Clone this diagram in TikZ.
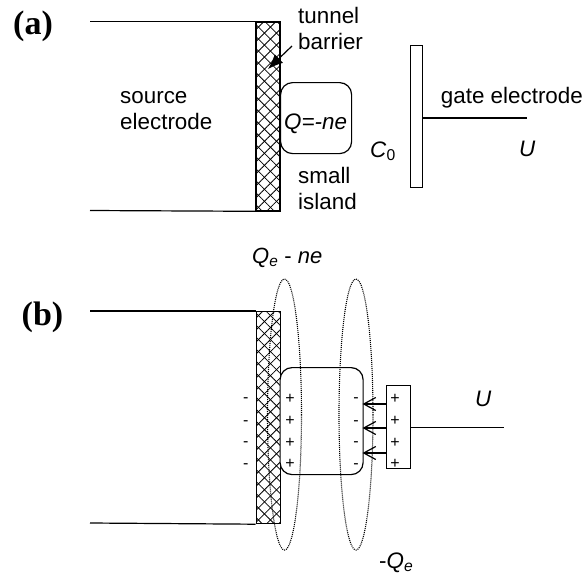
\documentclass[tikz,border=0pt]{standalone}
\usepackage{fontspec}
\setmainfont{Liberation Sans}
\newfontfamily\serifb{Liberation Serif}
\usetikzlibrary{patterns.meta,arrows.meta}
\tikzset{
  x=1pt,y=-1pt,
  wire/.style={line width=1.2pt,black},
  lab/.style={font=\fontsize{22.4}{26}\selectfont,inner sep=0pt,anchor=base west},
  two/.style={font=\fontsize{22.4}{26}\selectfont,inner sep=0pt,anchor=base west,align=left},
  sgn/.style={font=\fontsize{16}{16}\selectfont,inner sep=0pt},
  head/.style={font=\serifb\bfseries\fontsize{34}{36}\selectfont,inner sep=0pt,anchor=base},
  dots/.style={line width=1.1pt,dash pattern=on 1pt off 1pt},
  barrierbox/.style={draw,line width=1.2pt,inner sep=0pt,anchor=north west,
    preaction={pattern={Lines[angle=45,distance=8.5pt,line width=.8pt]}},
    pattern={Lines[angle=-45,distance=8.5pt,line width=.8pt]}},
  islandbox/.style={draw,line width=1.2pt,rounded corners=12pt,fill=white,inner sep=0pt,anchor=north west},
  platebox/.style={draw,line width=1.2pt,fill=white,inner sep=0pt,anchor=north west},
}
\begin{document}
\begin{tikzpicture}
\useasboundingbox (0,0) rectangle (584,574);
% (a)
\node[head] (la) at (33,34) {(a)};
\coordinate (s1) at (90,21.5);
\coordinate (s2) at (90,210.5);
\node[barrierbox,minimum width=24pt,minimum height=189pt] (b1) at (255.5,21.5) {};
\draw[wire] (s1) -- (b1.north west);
\draw[wire] (s2) -- (b1.south west);
\node[islandbox,minimum width=71pt,minimum height=71pt] (i1) at (280,82) {};
\node[lab] (q) at (284,129) {\textit{Q=-ne}};
\node[platebox,minimum width=12pt,minimum height=142pt] (p1) at (409.5,45) {};
\coordinate (g1) at (527,118);
\draw[wire] (p1.east |- g1) -- (g1);
\node[two] (t1) at (298,49) {tunnel\\barrier};
\coordinate (a0) at (292,46);
\coordinate (a1) at (268,69);
\draw[wire,-{Latex[length=15pt,width=12pt]}] (a0) -- (a1);
\node[two] (src) at (120,129) {source\\electrode};
\node[lab] (gate) at (440.7,103) {gate electrode};
\node[lab] (u1) at (519,156) {\textit{U}};
\node[lab] (c0) at (370,157) {\textit{C}\textsubscript{0}};
\node[two] (isl) at (298,209) {small\\island};
% (b)
\node[head] (lb) at (42.5,325) {(b)};
\node[lab,font=\fontsize{22}{26}\selectfont] (qe) at (252,263) {\textit{Q\textsubscript{e}} - \textit{ne}};
\coordinate (s3) at (90,311);
\coordinate (s4) at (90,523);
\node[barrierbox,minimum width=24pt,minimum height=212pt] (b2) at (255.5,311) {};
\draw[wire] (s3) -- (b2.north west);
\draw[wire] (s4) -- (b2.south west);
\node[islandbox,minimum width=83pt,minimum height=107pt] (i2) at (279.5,367) {};
\node[platebox,minimum width=24pt,minimum height=83pt] (p2) at (385.5,385) {};
\coordinate (g2) at (504,427.5);
\draw[wire] (p2.east |- g2) -- (g2);
\node[lab] (u2) at (475,406) {\textit{U}};
\foreach \y/\z/\n in {399/400/1,421/422.7/2,443/444/3,464/465.7/4}{
  \node[sgn] (m\n) at (245.7,\z) {-};
  \node[sgn] (p\n) at (290,\y) {+};
  \node[sgn] (r\n) at (356,\z) {-};
  \node[sgn] (t\n) at (395,\y) {+};
}
\foreach \y/\n in {404/1,428/2,453/3}{
  \coordinate (f\n) at (385.5,\y);
  \coordinate (e\n) at (362.5,\y);
  \draw[wire,-{Straight Barb[length=12pt,width=13pt]}] (f\n) -- (e\n);
}
\draw[dots] (284.5,414.5) ellipse [x radius=17,y radius=135.5];
\draw[dots] (356,414.5) ellipse [x radius=17,y radius=135.5];
\node[lab] (qb) at (379,568) {-\textit{Q\textsubscript{e}}};
\end{tikzpicture}
\end{document}
